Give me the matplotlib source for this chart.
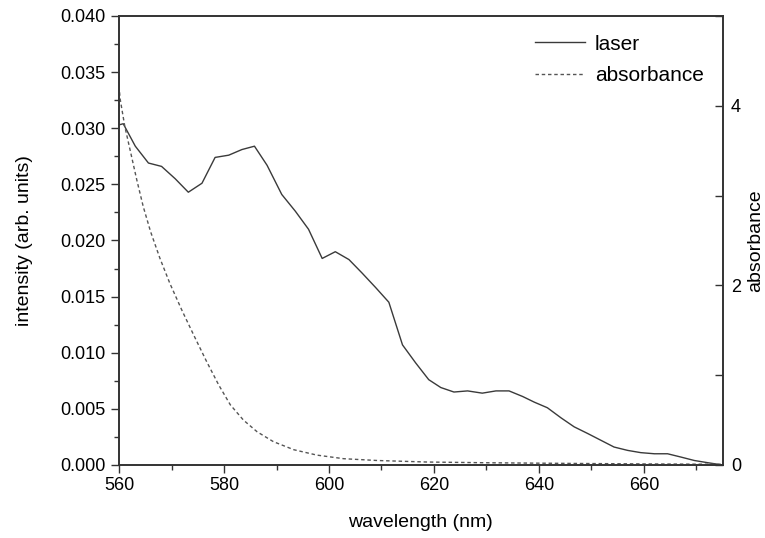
import matplotlib.pyplot as plt
from matplotlib.ticker import MultipleLocator

# laser intensity spectrum
laser_wl = [560.0, 560.8, 563.1, 565.6, 568.1, 570.7, 573.2, 575.8, 578.3, 580.9,
            583.4, 585.8, 588.2, 591.0, 593.6, 596.1, 598.7, 601.2, 603.8, 606.3,
            608.9, 611.4, 614.0, 616.5, 619.0, 621.3, 623.8, 626.4, 629.2, 631.8,
            634.3, 636.9, 639.1, 641.6, 644.2, 646.7, 649.3, 651.8, 654.3, 656.9,
            659.4, 662.0, 664.5, 667.1, 669.6, 672.2, 675.0]
laser_int = [0.0303, 0.0304, 0.0284, 0.0269, 0.0266, 0.0255, 0.0243, 0.0251, 0.0274, 0.0276,
             0.0281, 0.0284, 0.0267, 0.0241, 0.0226, 0.0210, 0.0184, 0.0190, 0.0183, 0.0171,
             0.0158, 0.0145, 0.0107, 0.0091, 0.0076, 0.0069, 0.0065, 0.0066, 0.0064, 0.0066,
             0.0066, 0.0061, 0.0056, 0.0051, 0.0042, 0.0034, 0.0028, 0.0022, 0.0016, 0.0013,
             0.0011, 0.0010, 0.0010, 0.0007, 0.0004, 0.0002, 0.0000]

# absorbance spectrum
abs_wl = [560.0, 560.2, 561.1, 562.1, 563.4, 564.6, 566.0, 567.8, 569.7, 572.0,
          574.2, 576.7, 579.0, 581.2, 583.7, 586.3, 589.4, 593.3, 597.7, 602.8,
          609.2, 618.7, 630.0, 645.0, 660.0, 675.0]
abs_val = [4.22, 4.08, 3.77, 3.51, 3.17, 2.88, 2.60, 2.30, 2.02, 1.72,
           1.45, 1.15, 0.89, 0.67, 0.50, 0.37, 0.26, 0.17, 0.11, 0.07,
           0.05, 0.033, 0.025, 0.018, 0.012, 0.008]

plt.rcParams['font.family'] = ['Liberation Sans', 'DejaVu Sans']

fig = plt.figure(figsize=(7.65, 5.38), dpi=100)
ax = fig.add_axes([0.1556, 0.1357, 0.7891, 0.8346])
ax2 = ax.twinx()

l1, = ax.plot(laser_wl, laser_int, color='#3a3a3a', linewidth=1.0, label='laser')
l2, = ax2.plot(abs_wl, abs_val, color='#555555', linewidth=1.0,
               linestyle=(0, (2.5, 2)), label='absorbance')

ax.set_xlim(560, 675)
ax.set_ylim(0, 0.040)
ax2.set_ylim(0, 5)

ax.xaxis.set_major_locator(MultipleLocator(20))
ax.xaxis.set_minor_locator(MultipleLocator(10))
ax.yaxis.set_major_locator(MultipleLocator(0.005))
ax.yaxis.set_minor_locator(MultipleLocator(0.0025))
ax.yaxis.set_major_formatter(plt.FormatStrFormatter('%.3f'))
ax2.yaxis.set_major_locator(MultipleLocator(2))
ax2.yaxis.set_minor_locator(MultipleLocator(1))

ax.tick_params(which='both', direction='out', labelsize=13, width=1.0, color='#333333')
ax.tick_params(which='major', length=6)
ax.tick_params(which='minor', length=3.5)
ax.tick_params(axis='x', pad=3)
ax2.tick_params(which='both', direction='in', labelsize=13, width=1.0, color='#333333', pad=6)
ax2.tick_params(which='major', length=6)
ax2.tick_params(which='minor', length=6)

for a in (ax, ax2):
    for s in a.spines.values():
        s.set_linewidth(1.2)
        s.set_color('#333333')

ax.set_xlabel('wavelength (nm)', fontsize=14, labelpad=14)
ax.set_ylabel('intensity (arb. units)', fontsize=14, labelpad=20)
ax2.set_ylabel('absorbance', fontsize=14)
ax2.yaxis.set_label_coords(1.055, 0.5)
ax2.yaxis.label.set_verticalalignment('center')

ax.legend([l1, l2], ['laser', 'absorbance'], loc='upper right', frameon=False,
          fontsize=15, handlelength=2.4, handletextpad=0.5, labelspacing=0.6,
          bbox_to_anchor=(1.0, 1.0))

fig.savefig('out.png', dpi=100)
